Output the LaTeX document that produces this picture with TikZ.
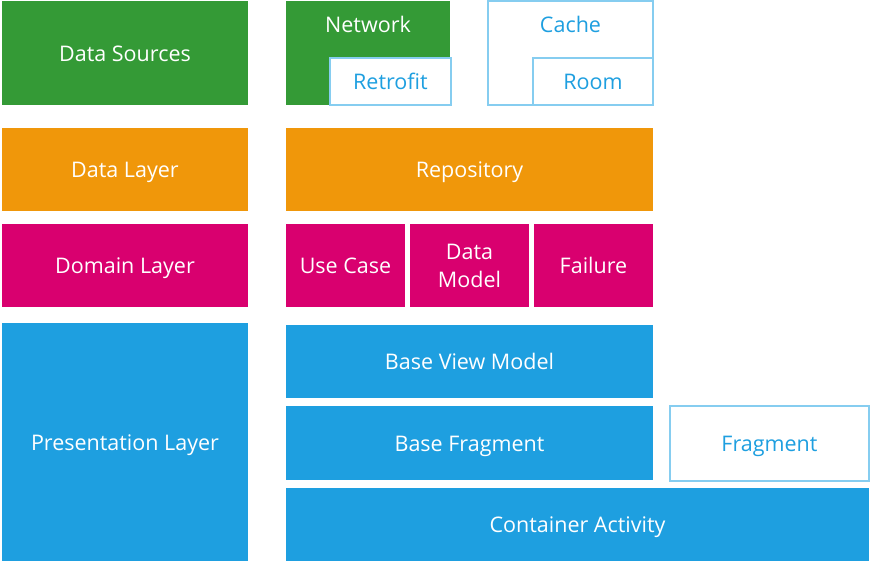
\documentclass[tikz,border=0pt]{standalone}
\usepackage{fontspec}
\setmainfont{Open Sans}
\definecolor{cgreen}{HTML}{349A36}
\definecolor{corange}{HTML}{F0970A}
\definecolor{cmagenta}{HTML}{D9006F}
\definecolor{cblue}{HTML}{1E9FE0}
\definecolor{cline}{HTML}{86CDF0}
\tikzset{
  base/.style={anchor=north west, inner sep=0pt, outer sep=0pt, font=\fontsize{21.5}{28}\selectfont, text=white, align=center},
  box/.style={base, text height=21pt, text depth=5pt},
  green/.style={box, fill=cgreen},
  orange/.style={box, fill=corange},
  magenta/.style={box, fill=cmagenta},
  magentatwo/.style={base, fill=cmagenta},
  blue/.style={box, fill=cblue},
  outline/.style={box, fill=white, draw=cline, line width=1.2pt, text=cblue},
}
\newcommand{\bx}[7]{\node[#1, minimum width=#4pt-#2pt, minimum height=#5pt-#3pt] (#6) at (#2pt,-#3pt) {#7};}
\begin{document}
\begin{tikzpicture}
\useasboundingbox[fill=white] (0,0) rectangle (871pt,-563pt);
% left column
\bx{green}{2}{1}{248}{105}{ds}{Data Sources}
\bx{orange}{2}{128}{248}{211}{dl}{Data Layer}
\bx{magenta}{2}{224}{248}{307}{dom}{Domain Layer}
\bx{blue}{2}{323}{248}{561}{pl}{Presentation Layer}
% data sources
\bx{green}{286}{1}{450}{105}{net}{}
\node[box, anchor=center] (nett) at (368pt,-24pt) {Network};
\bx{outline}{330}{58}{451}{105}{retro}{Retrofit}
\bx{outline}{488}{1}{653}{105}{cache}{}
\node[box, anchor=center, text=cblue] (cachet) at (570.5pt,-24pt) {Cache};
\bx{outline}{533}{58}{653}{105}{room}{Room}
% data layer
\bx{orange}{286}{128}{653}{211}{repo}{Repository}
% domain
\bx{magenta}{286}{224}{405}{307}{uc}{Use Case}
\bx{magentatwo}{410}{224}{529}{307}{dm}{Data\\Model}
\bx{magenta}{534}{224}{653}{307}{fail}{Failure}
% presentation
\bx{blue}{286}{325}{653}{398}{bvm}{Base View Model}
\bx{blue}{286}{406}{653}{480}{bf}{Base Fragment}
\bx{outline}{670}{406}{869}{481}{frag}{Fragment}
\bx{blue}{286}{488}{869}{561}{ca}{Container Activity}
\end{tikzpicture}
\end{document}
